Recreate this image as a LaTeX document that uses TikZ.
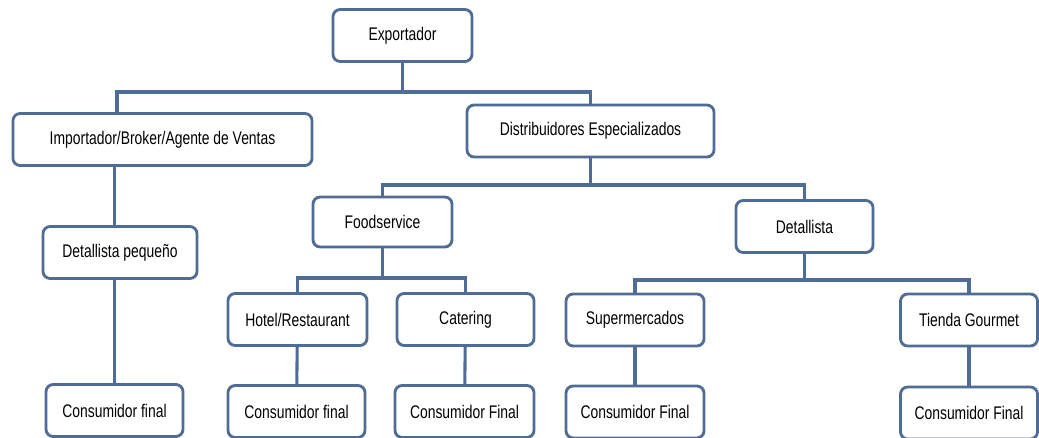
\documentclass[tikz,border=0pt]{standalone}
\usepackage{fontspec}
\setmainfont[FakeStretch=0.76]{Liberation Sans}
\usepackage{tikz}
\definecolor{linea}{RGB}{79,108,150}

\begin{document}
\begin{tikzpicture}[x=0.025cm,y=-0.025cm,
  caja/.style={draw=linea,line width=2pt,rounded corners=0.18cm,fill=white,
    minimum height=1.3cm,inner sep=2pt,font=\fontsize{13}{15}\selectfont},
  rama/.style={draw=linea,line width=2.2pt}]
\useasboundingbox (0,0) rectangle (1039,438);
\node[caja,minimum width=3.475cm] (exp) at (402.5,35.5) {Exportador};
\node[caja,minimum width=7.475cm] (imp) at (162.5,139.5) {Importador/Broker/Agente de Ventas};
\node[caja,minimum width=6.175cm] (dist) at (590.5,131) {Distribuidores Especializados};
\node[caja,minimum width=3.475cm,minimum height=1.25cm] (food) at (382.5,222) {Foodservice};
\node[caja,minimum width=3.425cm] (det) at (804.5,226.5) {Detallista};
\node[caja,minimum width=3.85cm] (dp) at (120,252.5) {Detallista peque\~no};
\node[caja,minimum width=3.475cm] (hotel) at (297.5,319.5) {Hotel/Restaurant};
\node[caja,minimum width=3.425cm] (cat) at (465.5,319.5) {Catering};
\node[caja,minimum width=3.45cm] (sup) at (635,320) {Supermercados};
\node[caja,minimum width=3.425cm] (tg) at (969,320) {Tienda Gourmet};
\node[caja,minimum width=3.425cm] (cf1) at (114.5,410.5) {Consumidor final};
\node[caja,minimum width=3.425cm] (cf2) at (296.5,411.5) {Consumidor final};
\node[caja,minimum width=3.475cm] (cf3) at (464.5,411.5) {Consumidor Final};
\node[caja,minimum width=3.45cm] (cf4) at (635,412) {Consumidor Final};
\node[caja,minimum width=3.425cm] (cf5) at (969,413) {Consumidor Final};
\coordinate (barE) at (117,92);
\coordinate (barD) at (0,185);
\coordinate (barF) at (0,278);
\coordinate (barT) at (0,280);
\draw[rama] (exp.south) -- (exp.south |- barE);
\draw[rama] (barE |- imp.north) -- (barE) -| (dist.north);
\draw[rama] (dist.south) -- (dist.south |- barD);
\draw[rama] (food.north) |- (det.north |- barD) -- (det.north);
\draw[rama] (food.south) -- (food.south |- barF);
\draw[rama] (hotel.north) |- (cat.north |- barF) -- (cat.north);
\draw[rama] (det.south) -- (det.south |- barT);
\draw[rama] (sup.north) |- (tg.north |- barT) -- (tg.north);
\draw[rama] (imp.south -| cf1) -- (dp.north -| cf1);
\draw[rama] (dp.south -| cf1) -- (cf1.north);
\draw[rama] (hotel) -- (cf2);
\draw[rama] (cat) -- (cf3);
\draw[rama] (sup) -- (cf4);
\draw[rama] (tg) -- (cf5);
\end{tikzpicture}
\end{document}
